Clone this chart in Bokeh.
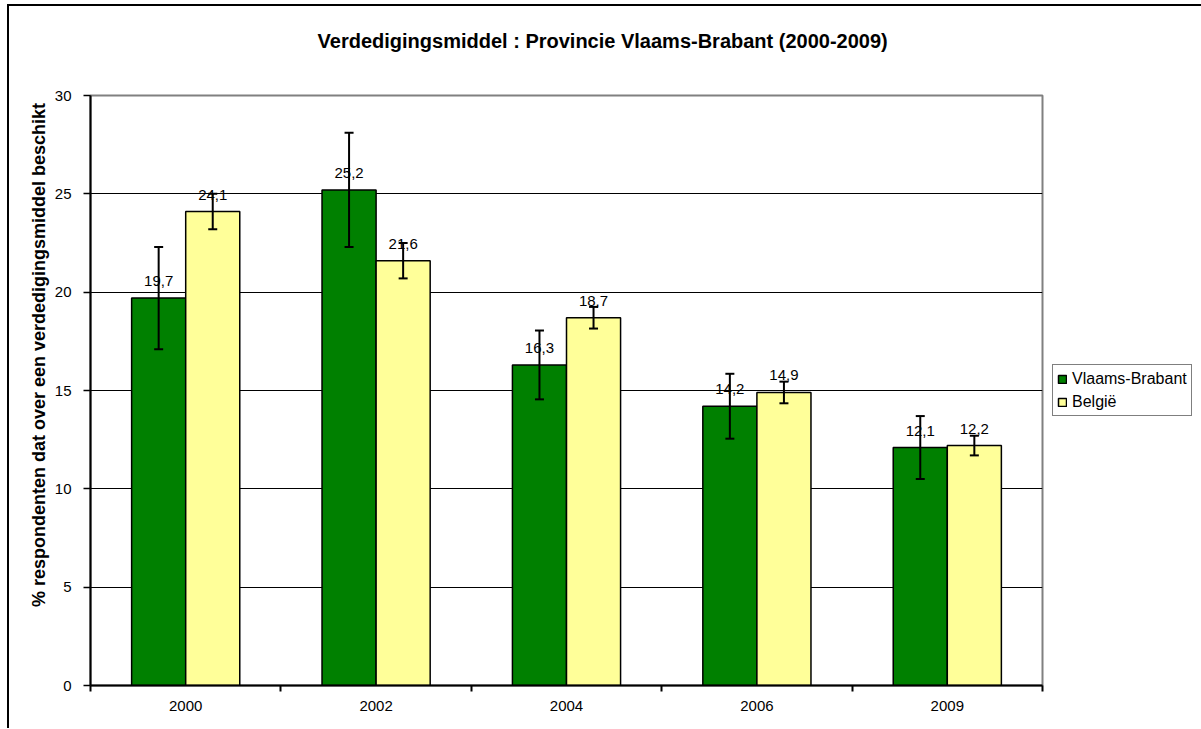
import math
from bokeh.plotting import figure
from bokeh.models import (ColumnDataSource, FixedTicker, Legend, LegendItem,
                          Whisker, Range1d, LinearAxis)
from bokeh.embed import file_html
from bokeh.resources import INLINE

categories = ["2000", "2002", "2004", "2006", "2009"]
vlaams_brabant = [19.7, 25.2, 16.3, 14.2, 12.1]
belgie = [24.1, 21.6, 18.7, 14.9, 12.2]
vb_err = [2.6, 2.9, 1.75, 1.65, 1.6]
be_err = [0.9, 0.9, 0.55, 0.55, 0.5]
y_ticks = [0, 5, 10, 15, 20, 25, 30]

title = "Verdedigingsmiddel : Provincie Vlaams-Brabant (2000-2009)"
y_label = "% respondenten dat over een verdedigingsmiddel beschikt"
FONT = "Liberation Sans"

# text anchor positions (in axis units)
TITLE_X = 2.69
YLABEL_Y = 17.27

centers = [i + 0.5 for i in range(len(categories))]
bw = 0.284
x_vb = [c - bw / 2 for c in centers]
x_be = [c + bw / 2 for c in centers]

src_vb = ColumnDataSource(dict(
    x=x_vb, top=vlaams_brabant,
    lo=[v - e for v, e in zip(vlaams_brabant, vb_err)],
    hi=[v + e for v, e in zip(vlaams_brabant, vb_err)],
    lab=[f"{v:.1f}".replace(".", ",") for v in vlaams_brabant]))
src_be = ColumnDataSource(dict(
    x=x_be, top=belgie,
    lo=[v - e for v, e in zip(belgie, be_err)],
    hi=[v + e for v, e in zip(belgie, be_err)],
    lab=[f"{v:.1f}".replace(".", ",") for v in belgie]))

p = figure(frame_width=952, frame_height=590, output_backend="svg",
           toolbar_location=None,
           x_range=Range1d(0, len(categories)), y_range=Range1d(0, 30),
           min_border_left=81, min_border_right=158, min_border_top=89,
           min_border_bottom=43)
p.styles = {"border-left": "2px solid black", "border-top": "2px solid black",
            "margin-left": "7px", "margin-top": "4px"}

p.outline_line_color = "#808080"
p.outline_line_width = 2

r_vb = p.vbar(x="x", top="top", width=bw, bottom=0, source=src_vb,
              fill_color="#008000", line_color="black", line_width=1.5)
r_be = p.vbar(x="x", top="top", width=bw, bottom=0, source=src_be,
              fill_color="#FFFF99", line_color="black", line_width=1.5)

for src in (src_vb, src_be):
    p.text(x="x", y="top", text="lab", source=src, text_align="center",
           text_baseline="bottom", y_offset=-12, text_font_size="15px",
           text_font={"value": FONT}, text_color="black")

for src in (src_vb, src_be):
    w = Whisker(base="x", lower="lo", upper="hi", source=src,
                line_color="black", line_width=2, level="overlay")
    w.upper_head.size = 9
    w.lower_head.size = 9
    w.upper_head.line_width = 2
    w.lower_head.line_width = 2
    p.add_layout(w)

# axes
p.xaxis.ticker = FixedTicker(ticks=centers,
                             minor_ticks=list(range(len(categories) + 1)))
p.xaxis.major_label_overrides = {c: cat for c, cat in zip(centers, categories)}
p.xaxis.major_tick_out = 0
p.xaxis.major_tick_in = 0
p.xaxis.minor_tick_out = 6
p.xaxis.minor_tick_in = 0
p.xaxis.minor_tick_line_width = 2
p.xaxis.axis_line_width = 2
p.xaxis.major_label_standoff = 9
p.xaxis.major_label_text_font = FONT
p.xaxis.major_label_text_font_size = "15px"
p.xaxis.major_label_text_color = "black"

p.yaxis.ticker = FixedTicker(ticks=y_ticks)
p.yaxis.major_tick_out = 7
p.yaxis.major_tick_in = 0
p.yaxis.minor_tick_line_color = None
p.yaxis.axis_line_width = 2
p.yaxis.major_tick_line_width = 1.5
p.yaxis.major_label_standoff = 12
p.yaxis.major_label_text_font = FONT
p.yaxis.major_label_text_font_size = "15px"
p.yaxis.major_label_text_color = "black"

# y-axis title (outer axis on the left, label only)
ylab_axis = LinearAxis(ticker=FixedTicker(ticks=[YLABEL_Y]),
                       major_label_overrides={YLABEL_Y: y_label},
                       major_label_orientation=math.pi / 2,
                       axis_line_color=None, major_tick_line_color=None,
                       minor_tick_line_color=None, major_label_standoff=6,
                       major_label_text_font=FONT,
                       major_label_text_font_size="18px",
                       major_label_text_font_style="bold",
                       major_label_text_color="black")
p.add_layout(ylab_axis, "left")

# chart title (axis above, label only)
title_axis = LinearAxis(ticker=FixedTicker(ticks=[TITLE_X]),
                        major_label_overrides={TITLE_X: title},
                        axis_line_color=None, major_tick_line_color=None,
                        minor_tick_line_color=None, major_label_standoff=38,
                        major_label_text_font=FONT,
                        major_label_text_font_size="20px",
                        major_label_text_font_style="bold",
                        major_label_text_color="black")
p.add_layout(title_axis, "above")

p.xgrid.grid_line_color = None
p.ygrid.ticker = FixedTicker(ticks=y_ticks[1:-1])
p.ygrid.grid_line_color = "black"
p.ygrid.grid_line_width = 1.2
p.ygrid.grid_line_alpha = 1.0

legend = Legend(items=[LegendItem(label="Vlaams-Brabant", renderers=[r_vb]),
                       LegendItem(label="België", renderers=[r_be])],
                location="center_left", border_line_color="black",
                border_line_width=1.5, label_text_font=FONT,
                label_text_font_size="16px", label_text_color="black",
                glyph_width=10, glyph_height=10,
                label_height=19, padding=4, spacing=4, label_standoff=5,
                margin=10, background_fill_alpha=1.0)
p.add_layout(legend, "right")

open("out.html", "w").write(file_html(p, INLINE))
